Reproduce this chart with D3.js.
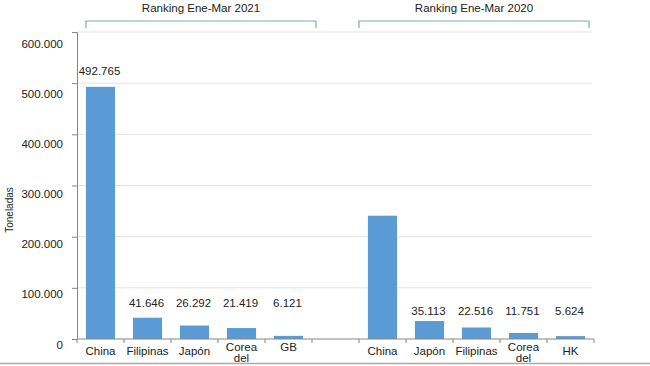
<!DOCTYPE html>
<html><head><meta charset="utf-8">
<script src="https://cdn.jsdelivr.net/npm/d3@7"></script>
<style>body{margin:0;background:#fff}svg{display:block;font-family:"Liberation Sans",Arial,sans-serif}</style>
</head><body><svg id="c" width="650" height="366"></svg>
<script>
const categories = ["China","Filipinas","Japón","Corea del","GB","","China","Japón","Filipinas","Corea del","HK"];
const values = [492765,41646,26292,21419,6121,null,241000,35113,22516,11751,5624];
const valueLabels = ["492.765","41.646","26.292","21.419","6.121","","","35.113","22.516","11.751","5.624"];
const groupTitles = ["Ranking Ene-Mar 2021","Ranking Ene-Mar 2020"];
const groupRanges = [[0,4],[6,10]];
const yTicks = [0,100000,200000,300000,400000,500000,600000];
const yTickLabels = ["0","100.000","200.000","300.000","400.000","500.000","600.000"];

(function(){
const svg = d3.select("#c");
const pl = 77, pr = 594, pt = 32, pb = 339;
const x = d3.scaleBand().domain(d3.range(categories.length)).range([pl,pr]).paddingInner(0.38).paddingOuter(0.19);
const slot = d3.scaleBand().domain(d3.range(categories.length)).range([pl,pr]);
const y = d3.scaleLinear().domain([0,600000]).range([pb,pt]);
const yLab = d3.scaleLinear().domain([0,600000]).range([344,43]);
const axisCol = "#868686";

svg.append("g").selectAll("line").data(yTicks.slice(1)).join("line")
  .attr("x1",pl).attr("x2",pr-2).attr("y1",d=>y(d)).attr("y2",d=>y(d))
  .attr("stroke","#e3e3e3").attr("stroke-width",1);

const ya = svg.append("g").attr("transform",`translate(${pl},0)`)
  .call(d3.axisLeft(y).tickValues(yTicks).tickFormat((d,i)=>yTickLabels[i]).tickSize(5).tickPadding(9));
ya.select(".domain").attr("stroke",axisCol);
ya.selectAll(".tick line").attr("stroke",axisCol);
ya.selectAll(".tick text").attr("font-size",11.5).attr("fill","#222").attr("font-family","Liberation Sans, Arial, sans-serif")
  .attr("y",d=>yLab(d)-y(d)).attr("dy","0.35em");

svg.append("g").selectAll("rect").data(values.map((v,i)=>({v,i})).filter(d=>d.v!=null)).join("rect")
  .attr("x",d=>x(d.i)).attr("width",x.bandwidth())
  .attr("y",d=>y(d.v)).attr("height",d=>pb-y(d.v))
  .attr("fill","#5b9bd5");

svg.append("line").attr("x1",pl).attr("x2",pr).attr("y1",pb).attr("y2",pb).attr("stroke",axisCol);
svg.append("g").selectAll("line").data(d3.range(categories.length+1)).join("line")
  .attr("x1",i=>pl+i*slot.bandwidth()).attr("x2",i=>pl+i*slot.bandwidth())
  .attr("y1",pb).attr("y2",pb+4).attr("stroke",axisCol);

const xl = svg.append("g").attr("font-size",11.5).attr("fill","#222").attr("text-anchor","middle");
categories.forEach((c,i)=>{
  const cx = slot(i)+slot.bandwidth()/2;
  if(!c) return;
  const parts = c.split(" ");
  if(parts.length>1){
    xl.append("text").attr("x",cx).attr("y",351).text(parts[0]);
    xl.append("text").attr("x",cx).attr("y",362).text(parts[1]);
  } else {
    xl.append("text").attr("x",cx).attr("y",c==="GB"?351:355).text(c);
  }
});

const rowY = [307, 315];
const vl = svg.append("g").attr("font-size",11.5).attr("fill","#222").attr("text-anchor","middle");
values.forEach((v,i)=>{
  if(!valueLabels[i]) return;
  const cx = x(i)+x.bandwidth()/2 - 1;
  const g = i<5?0:1;
  const yy = (v>200000) ? y(v)-12 : rowY[g];
  vl.append("text").attr("x",cx).attr("y",yy).text(valueLabels[i]);
});

const bcol = "#7fa8b8";
groupRanges.forEach((r,g)=>{
  const x0 = g===0 ? x(r[0]) : slot(r[0]);
  const x1 = g===0 ? slot(5)+4 : pr-5;
  const by = 21;
  svg.append("path").attr("d",`M${x0},${by+7}V${by}H${x1}V${by+7}`)
    .attr("fill","none").attr("stroke",bcol).attr("stroke-width",1.2);
  svg.append("text").attr("x",(x0+x1)/2).attr("y",12).attr("text-anchor","middle")
    .attr("font-size",11.5).attr("fill","#222").text(groupTitles[g]);
});

svg.append("text").attr("transform","translate(13,210) rotate(-90)").attr("text-anchor","middle")
  .attr("font-size",10).attr("fill","#222").text("Toneladas");

svg.append("line").attr("x1",0).attr("x2",650).attr("y1",363.5).attr("y2",363.5).attr("stroke","#aaa").attr("stroke-width",1.5);
})();
</script></body></html>
